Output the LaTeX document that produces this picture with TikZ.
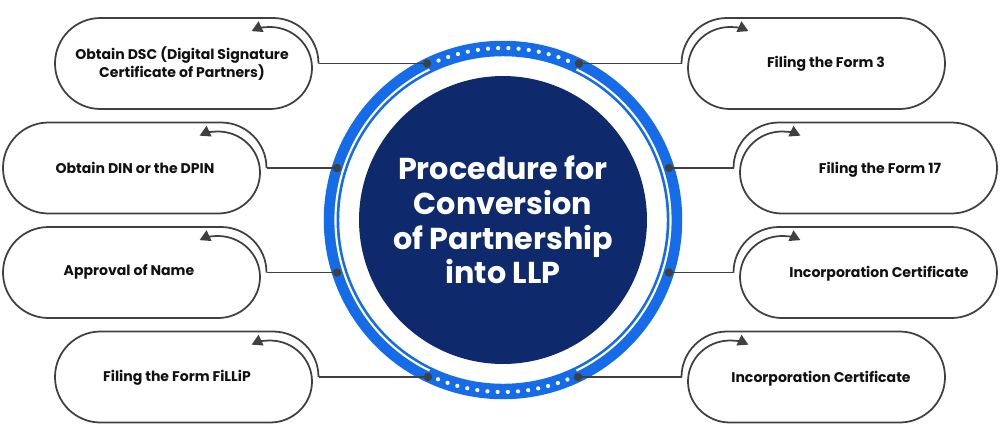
\documentclass[tikz,border=0pt]{standalone}
\usepackage{fontspec}
\setmainfont{Poppins}
\usetikzlibrary{arrows.meta}
\definecolor{ringblue}{RGB}{22,108,232}
\definecolor{navy}{RGB}{14,42,108}
\definecolor{linegray}{RGB}{64,64,64}
\definecolor{inkblack}{RGB}{17,17,17}

\begin{document}
\begin{tikzpicture}[
      x=0.02cm, y=-0.02cm,
      outline/.style = {draw=linegray, line width=1pt},
      link/.style = {linegray, line width=1pt},
      label/.style = {font=\fontsize{8}{10.2}\selectfont\bfseries, text=inkblack, align=center},
      pin/.style = {circle, fill=linegray, inner sep=0pt, minimum size=4.8pt},
      pill/.pic = {
        \draw[outline] (215,45.5) -- (45.5,45.5) arc[start angle=90, end angle=270, radius=45.5]
          -- (218,-45.5) arc[start angle=-90, end angle=0, radius=45.5] coordinate (-c);
        \draw[outline, -{Triangle[length=6pt, width=6.5pt]}] (215,45.5)
          arc[start angle=90, end angle=-116, x radius=42, y radius=41];
      }
    ]
    \useasboundingbox (0,0) rectangle (1000,440);

    % centre disc and ring
    \node[circle, fill=navy, minimum size=5.76cm, text=white, align=center,
          font=\fontsize{17.2}{19.8}\selectfont\bfseries] (core) at (503,220)
          {Procedure for\\Conversion\\of Partnership\\into LLP};
    \draw[ringblue, line width=8.8pt] (core.center) circle[radius=171.5];
    \draw[white, line width=1.2pt] (core.center) ++(116:167.5) arc[start angle=116, end angle=244, radius=167.5];
    \draw[white, line width=1.2pt] (core.center) ++(-64:167.5) arc[start angle=-64, end angle=64, radius=167.5];
    \foreach \a in {-112,-108.6,...,-66} \fill[white] (core.center) ++(\a:172) circle[radius=2.1];
    \foreach \a in {68,71.4,...,114} \fill[white] (core.center) ++(\a:172) circle[radius=2.1];

    % left steps
    \pic (dsc) at (55,63.5) {pill};
    \pic (din) at (3,168) {pill};
    \pic (name) at (3,272.5) {pill};
    \pic (fillip) at (55,377) {pill};
    \node[label] (dsctxt) at (182,63.5) {Obtain DSC (Digital Signature\\Certificate of Partners)};
    \node[label] (dintxt) at (135,168) {Obtain DIN or the DPIN};
    \node[label] (nametxt) at (129,272) {Approval of Name};
    \node[label] (filliptxt) at (177,378) {Filing the Form FiLLiP};

    % right steps
    \pic[xscale=-1] (form3) at (945,63.5) {pill};
    \pic[xscale=-1] (form17) at (997,168) {pill};
    \pic[xscale=-1] (cert) at (997,272.5) {pill};
    \pic[xscale=-1] (certb) at (945,377) {pill};
    \node[label] (form3txt) at (826,63.5) {Filing the Form 3};
    \node[label] (form17txt) at (880,170) {Filing the Form 17};
    \node[label] (certtxt) at (879,274) {Incorporation Certificate};
    \node[label] (certbtxt) at (821,379) {Incorporation Certificate};

    % pins on the ring
    \node[pin] (dsc-d) at (427,63.5) {};
    \node[pin] (din-d) at (337,168) {};
    \node[pin] (name-d) at (337,272.5) {};
    \node[pin] (fillip-d) at (428,377) {};
    \node[pin] (form3-d) at (579,63.5) {};
    \node[pin] (form17-d) at (669,168) {};
    \node[pin] (cert-d) at (669,272.5) {};
    \node[pin] (certb-d) at (578,377) {};

    \draw[link] (dsc-d.center) -- (dsc-c);
    \draw[link] (din-d.center) -- (din-c);
    \draw[link] (name-d.center) -- (name-c);
    \draw[link] (fillip-d.center) -- (fillip-c);
    \draw[link] (form3-d.center) -- (form3-c);
    \draw[link] (form17-d.center) -- (form17-c);
    \draw[link] (cert-d.center) -- (cert-c);
    \draw[link] (certb-d.center) -- (certb-c);
  \end{tikzpicture}
\end{document}
